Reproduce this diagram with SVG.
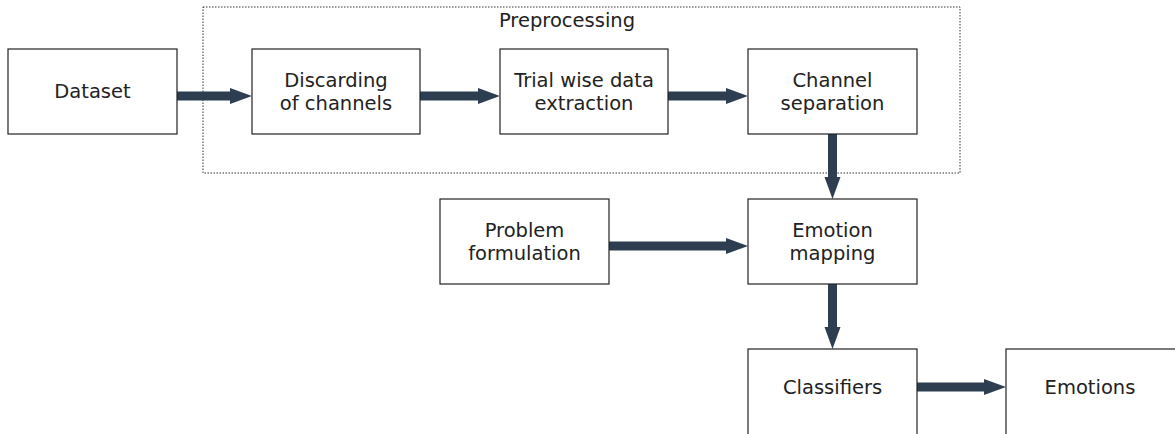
<svg xmlns="http://www.w3.org/2000/svg" width="1175" height="434" viewBox="0 0 1175 434">
<style>
.box{fill:#fff;stroke:#222;stroke-width:1.2}
.t{font-family:"DejaVu Sans",sans-serif;font-size:19.5px;fill:#222;text-anchor:middle}
.c{stroke:#2c3e50;stroke-width:9;fill:none}
</style>
<defs>
<marker id="ah" markerUnits="userSpaceOnUse" markerWidth="24" markerHeight="18" refX="0" refY="8" orient="auto">
<path d="M0,0 L22,8 L0,16 Z" fill="#2c3e50"/>
</marker>
</defs>
<rect x="0" y="0" width="1175" height="434" fill="#fff"/>
<g id="preprocessing">
<rect x="203" y="7" width="757" height="166" fill="none" stroke="#333" stroke-width="1" stroke-dasharray="1.5 1.5"/>
<text class="t" x="567" y="27">Preprocessing</text>
</g>
<g id="connectors">
<line class="c" x1="177" y1="96" x2="230" y2="96" marker-end="url(#ah)"/>
<line class="c" x1="420" y1="96" x2="478" y2="96" marker-end="url(#ah)"/>
<line class="c" x1="668" y1="96" x2="726" y2="96" marker-end="url(#ah)"/>
<line class="c" x1="832.5" y1="134" x2="832.5" y2="177" marker-end="url(#ah)"/>
<line class="c" x1="609" y1="246" x2="726" y2="246" marker-end="url(#ah)"/>
<line class="c" x1="832.5" y1="284" x2="832.5" y2="327" marker-end="url(#ah)"/>
<line class="c" x1="917" y1="387" x2="984" y2="387" marker-end="url(#ah)"/>
</g>
<g id="dataset">
<rect class="box" x="8" y="49" width="169" height="85"/>
<text class="t" x="92.5" y="98">Dataset</text>
</g>
<g id="discarding">
<rect class="box" x="252" y="49" width="168" height="85"/>
<text class="t" x="336" y="87">Discarding</text>
<text class="t" x="336" y="110">of channels</text>
</g>
<g id="trial">
<rect class="box" x="500" y="49" width="168" height="85"/>
<text class="t" x="584" y="87">Trial wise data</text>
<text class="t" x="584" y="110">extraction</text>
</g>
<g id="channel">
<rect class="box" x="748" y="49" width="169" height="85"/>
<text class="t" x="832.5" y="87">Channel</text>
<text class="t" x="832.5" y="110">separation</text>
</g>
<g id="problem">
<rect class="box" x="440" y="199" width="169" height="85"/>
<text class="t" x="524.5" y="237">Problem</text>
<text class="t" x="524.5" y="260">formulation</text>
</g>
<g id="emotion-mapping">
<rect class="box" x="748" y="199" width="169" height="85"/>
<text class="t" x="832.5" y="237">Emotion</text>
<text class="t" x="832.5" y="260">mapping</text>
</g>
<g id="classifiers">
<rect class="box" x="748" y="349" width="169" height="90"/>
<text class="t" x="832.5" y="394">Classifiers</text>
</g>
<g id="emotions">
<rect class="box" x="1006" y="349" width="175" height="90"/>
<text class="t" x="1090" y="394">Emotions</text>
</g>
</svg>
